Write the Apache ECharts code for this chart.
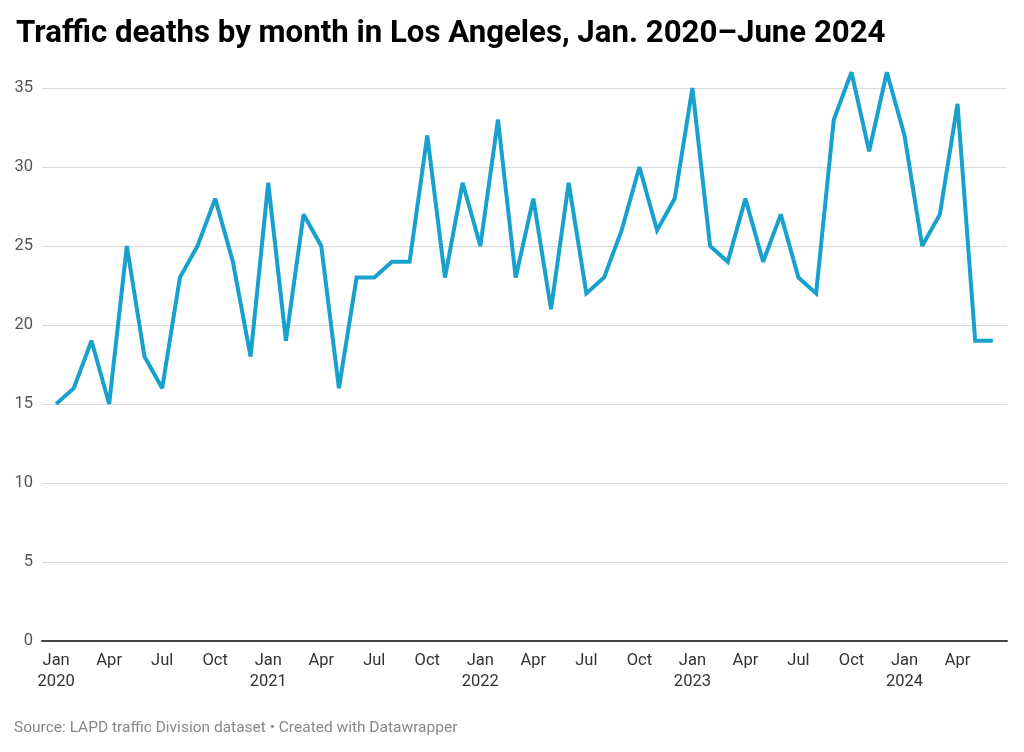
<!DOCTYPE html>
<html>
<head>
<meta charset="utf-8">
<script src="https://cdn.jsdelivr.net/npm/echarts@6/dist/echarts.min.js"></script>
<style>
html,body{margin:0;padding:0;background:#fff;}
#chart{width:1024px;height:752px;}
</style>
</head>
<body>
<div id="chart"></div>
<script>
const months = ["Jan","Feb","Mar","Apr","May","Jun","Jul","Aug","Sep","Oct","Nov","Dec"];
const years = [2020, 2021, 2022, 2023, 2024];
const deaths2020 = [15,16,19,15,25,18,16,23,25,28,24,18];
const deaths2021 = [29,19,27,25,16,23,23,24,24,32,23,29];
const deaths2022 = [25,33,23,28,21,29,22,23,26,30,26,28];
const deaths2023 = [35,25,24,28,24,27,23,22,33,36,31,36];
const deaths2024 = [32,25,27,34,19,19];
const yTicks = [0,5,10,15,20,25,30,35];

const allDeaths = [].concat(deaths2020, deaths2021, deaths2022, deaths2023, deaths2024);
const seriesData = allDeaths.map((v, i) => [i, v]);
const tickIdx = [];
for (let i = 0; i < allDeaths.length; i += 3) tickIdx.push(i);

const chart = echarts.init(document.getElementById('chart'));
chart.setOption({
  animation: false,
  backgroundColor: '#fff',
  title: {
    text: 'Traffic deaths by month in Los Angeles, Jan. 2020\u2013June 2024',
    left: 11, top: 14,
    textStyle: {fontFamily: 'Roboto', fontWeight: 'bold', fontSize: 31.2, color: '#000'}
  },
  graphic: [{
    type: 'text', left: 14, top: 720,
    style: {text: 'Source: LAPD traffic Division dataset \u2022 Created with Datawrapper',
      font: '15.5px Roboto', fill: '#888'}
  }],
  grid: {left: 42, right: 17, top: 88, bottom: 111, containLabel: false},
  xAxis: {
    type: 'value', min: -0.8, max: allDeaths.length - 1 + 0.8,
    splitLine: {show: false},
    axisLine: {show: true, onZero: false, lineStyle: {color: '#444', width: 2}},
    axisTick: {show: false},
    axisLabel: {
      customValues: tickIdx,
      margin: 9,
      fontFamily: 'Roboto', fontSize: 16.5, color: '#333', lineHeight: 21,
      formatter: function (v) {
        const i = Math.round(v);
        const m = months[i % 12];
        return (i % 12 === 0) ? m + '\n' + years[Math.floor(i / 12)] : m;
      }
    }
  },
  yAxis: {
    type: 'value', min: 0, max: 35, interval: 5,
    axisLine: {show: false}, axisTick: {show: false},
    splitLine: {lineStyle: {color: '#d9d9d9', width: 1}},
    axisLabel: {
      margin: 9, fontFamily: 'Roboto', fontSize: 16.5, color: '#555',
      formatter: v => yTicks.indexOf(v) >= 0 ? String(v) : ''
    }
  },
  series: [{
    type: 'line', data: seriesData, clip: false,
    showSymbol: false, symbol: 'none',
    lineStyle: {color: '#18a1cd', width: 4, join: 'miter', miterLimit: 3},
    z: 5
  }]
});
</script>
</body>
</html>
